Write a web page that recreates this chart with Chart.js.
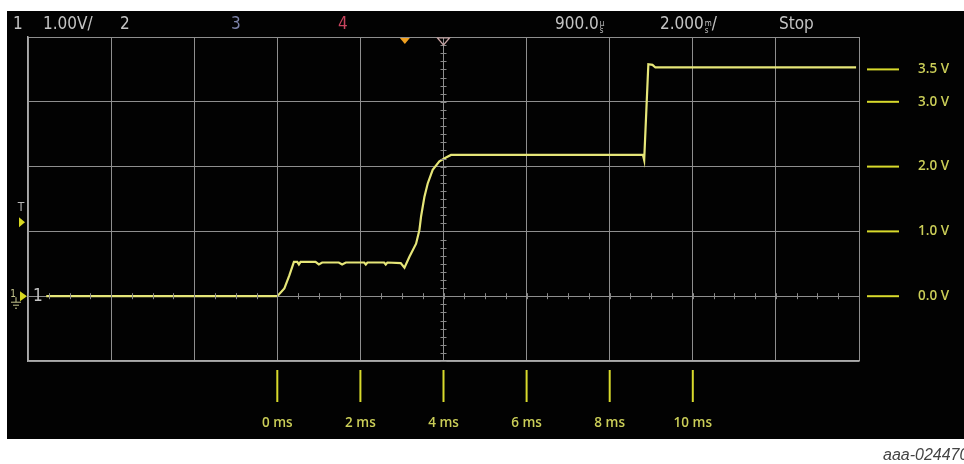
<!DOCTYPE html>
<html>
<head>
<meta charset="utf-8">
<script src="https://cdn.jsdelivr.net/npm/chart.js@4.4.0/dist/chart.umd.min.js"></script>
<style>
  html, body { margin: 0; padding: 0; background: #fff; width: 964px; height: 464px; overflow: hidden; }
  #screen { position: absolute; left: 7px; top: 11px; width: 957px; height: 428px; background: #020202; }
  #c { position: absolute; left: 0; top: 0; }
  .hd { position: absolute; top: 12px; font-family: "DejaVu Sans Condensed", "DejaVu Sans", sans-serif; font-size: 17px; line-height: 22px; color: #c4c4c4; white-space: nowrap; }
  .u { display: inline-flex; flex-direction: column; font-size: 8px; line-height: 7px; vertical-align: 3px; margin-left: 1px; }
  #cap { position: absolute; left: 883px; top: 446px; font-family: "Liberation Sans", Arial, sans-serif; font-style: italic; font-size: 16px; color: #444; white-space: nowrap; }
</style>
</head>
<body>
<div id="screen"></div>
<canvas id="c" width="964" height="464"></canvas>
<div class="hd" style="left:13px">1</div>
<div class="hd" style="left:43px">1.00V/</div>
<div class="hd" style="left:120px">2</div>
<div class="hd" style="left:231px;color:#7c82a8">3</div>
<div class="hd" style="left:338px;color:#c8445e">4</div>
<div class="hd" style="left:555px">900.0<span class="u"><span>µ</span><span>s</span></span></div>
<div class="hd" style="left:660px">2.000<span class="u"><span>m</span><span>s</span></span>/</div>
<div class="hd" style="left:779px">Stop</div>
<div id="cap">aaa-024470</div>
<script>
// Trace (time in ms, voltage in V)
const timeMs  = [-5.56, 0.00, 0.17, 0.29, 0.40, 0.48, 0.52, 0.56, 0.92, 1.00, 1.08, 1.48, 1.56, 1.65, 2.09, 2.13, 2.17, 2.57, 2.61, 2.65, 2.97, 3.06, 3.18, 3.34, 3.42, 3.46, 3.54, 3.62, 3.74, 3.90, 4.06, 4.18, 8.80, 8.83, 8.93, 9.03, 9.10, 13.93];
const voltage = [0.00, 0.00, 0.12, 0.32, 0.53, 0.53, 0.49, 0.53, 0.53, 0.49, 0.52, 0.52, 0.49, 0.52, 0.52, 0.49, 0.52, 0.52, 0.49, 0.52, 0.51, 0.44, 0.61, 0.81, 1.02, 1.23, 1.53, 1.74, 1.95, 2.08, 2.14, 2.18, 2.18, 2.10, 3.58, 3.57, 3.53, 3.53];

// Annotation labels
const voltMarks  = [3.5, 3.0, 2.0, 1.0, 0.0];
const voltLabels = ["3.5 V", "3.0 V", "2.0 V", "1.0 V", "0.0 V"];
const timeMarks  = [0, 2, 4, 6, 8, 10];
const timeLabels = ["0 ms", "2 ms", "4 ms", "6 ms", "8 ms", "10 ms"];

// Screen scale
const xMin = -6, xMax = 14, xDiv = 2;
const yMin = -1, yMax = 4, yDiv = 1;
const triggerLevel = 1.14;
const triggerTime = 3.07;

const points = timeMs.map((t, i) => ({ x: t, y: voltage[i] }));

const GRID = '#8e8e8e';
const YEL = '#d8da2c';
const YTXT = '#cbce58';

const scopeDecor = {
  id: 'scopeDecor',
  afterDraw(chart) {
    const ctx = chart.ctx, xs = chart.scales.x, ys = chart.scales.y, ca = chart.chartArea;
    ctx.save();
    // minor ticks on 0 V line and center time line
    ctx.strokeStyle = '#8a8a8a';
    ctx.lineWidth = 1;
    const y0 = ys.getPixelForValue(0);
    for (let t = xMin; t <= xMax + 1e-9; t += xDiv / 4) {
      const px = Math.round(xs.getPixelForValue(t)) + 0.5;
      ctx.beginPath(); ctx.moveTo(px, y0 - 3); ctx.lineTo(px, y0 + 3); ctx.stroke();
    }
    const xc = xs.getPixelForValue(4);
    for (let v = yMin; v <= yMax + 1e-9; v += yDiv / 8) {
      const py = Math.round(ys.getPixelForValue(v)) + 0.5;
      ctx.beginPath(); ctx.moveTo(xc - 3, py); ctx.lineTo(xc + 3, py); ctx.stroke();
    }
    // right voltage markers
    ctx.font = '600 13.5px "Open Sans", sans-serif';
    ctx.textBaseline = 'middle';
    ctx.textAlign = 'left';
    voltMarks.forEach((v, i) => {
      const py = ys.getPixelForValue(v);
      ctx.strokeStyle = YEL; ctx.lineWidth = 2;
      ctx.beginPath(); ctx.moveTo(ca.right + 8, py); ctx.lineTo(ca.right + 40, py); ctx.stroke();
      ctx.fillStyle = YTXT;
      ctx.fillText(voltLabels[i], ca.right + 59, py);
    });
    // bottom time markers
    ctx.textAlign = 'center';
    timeMarks.forEach((t, i) => {
      const px = xs.getPixelForValue(t);
      ctx.strokeStyle = YEL; ctx.lineWidth = 2;
      ctx.beginPath(); ctx.moveTo(px, ca.bottom + 9); ctx.lineTo(px, ca.bottom + 41); ctx.stroke();
      ctx.fillStyle = YTXT;
      ctx.fillText(timeLabels[i], px, ca.bottom + 62);
    });
    // trigger position markers (top)
    const tx = xs.getPixelForValue(triggerTime);
    ctx.fillStyle = '#f0a020';
    ctx.beginPath(); ctx.moveTo(tx - 5, ca.top + 1); ctx.lineTo(tx + 5, ca.top + 1); ctx.lineTo(tx, ca.top + 7); ctx.closePath(); ctx.fill();
    ctx.strokeStyle = '#c8a4a4'; ctx.lineWidth = 1.2;
    ctx.beginPath(); ctx.moveTo(xc - 6, ca.top + 1); ctx.lineTo(xc + 6, ca.top + 1); ctx.lineTo(xc, ca.top + 8); ctx.closePath(); ctx.stroke();
    // trigger level marker (left)
    const ty = ys.getPixelForValue(triggerLevel);
    ctx.fillStyle = '#b8b8b8';
    ctx.font = '12px "DejaVu Sans Condensed", sans-serif';
    ctx.textAlign = 'center';
    ctx.fillText('T', 21, ty - 14);
    ctx.fillStyle = '#d8d820';
    ctx.beginPath(); ctx.moveTo(19, ty - 5); ctx.lineTo(25, ty); ctx.lineTo(19, ty + 5); ctx.closePath(); ctx.fill();
    // channel 1 ground marker
    ctx.beginPath(); ctx.moveTo(20, y0 - 5); ctx.lineTo(27, y0); ctx.lineTo(20, y0 + 5); ctx.closePath(); ctx.fill();
    ctx.fillStyle = '#c8c890';
    ctx.font = '10px "DejaVu Sans Condensed", sans-serif';
    ctx.fillText('1', 13, y0 - 2);
    ctx.strokeStyle = '#c8c890'; ctx.lineWidth = 1;
    ctx.beginPath(); ctx.moveTo(16, y0 + 1); ctx.lineTo(16, y0 + 6); ctx.moveTo(11, y0 + 6); ctx.lineTo(21, y0 + 6);
    ctx.moveTo(13, y0 + 9); ctx.lineTo(19, y0 + 9); ctx.moveTo(15, y0 + 12); ctx.lineTo(17, y0 + 12); ctx.stroke();
    ctx.fillStyle = '#c4c4c4';
    ctx.font = '17px "DejaVu Sans Condensed", sans-serif';
    ctx.textAlign = 'left';
    ctx.fillText('1', 33, y0);
    ctx.restore();
  }
};

new Chart(document.getElementById('c'), {
  type: 'line',
  data: {
    datasets: [{
      data: points,
      borderColor: '#e6e678',
      borderWidth: 2.2,
      pointRadius: 0,
      tension: 0,
      fill: false
    }]
  },
  options: {
    responsive: false,
    animation: false,
    events: [],
    layout: { padding: { left: 28, top: 37, right: 105, bottom: 103 } },
    plugins: { legend: { display: false }, tooltip: { enabled: false } },
    scales: {
      x: {
        type: 'linear', min: xMin, max: xMax,
        ticks: { stepSize: xDiv, display: false },
        grid: { color: GRID, lineWidth: 1, drawTicks: false },
        border: { color: '#aaaaaa', width: 1.5 }
      },
      y: {
        type: 'linear', min: yMin, max: yMax,
        ticks: { stepSize: yDiv, display: false },
        grid: { color: GRID, lineWidth: 1, drawTicks: false },
        border: { color: '#aaaaaa', width: 1.5 }
      }
    }
  },
  plugins: [scopeDecor]
});
</script>
</body>
</html>
